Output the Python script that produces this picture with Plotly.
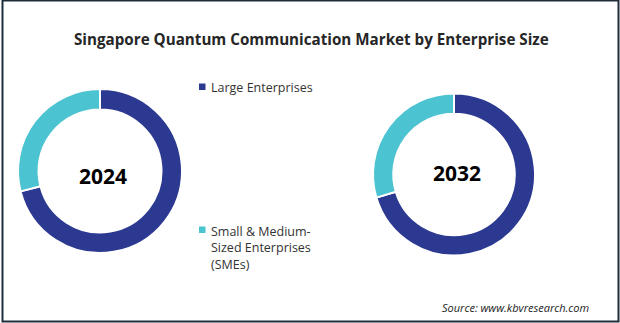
import plotly.graph_objects as go

categories = ["Large Enterprises", "Small & Medium-Sized Enterprises (SMEs)"]
legend_labels = ["Large Enterprises", "Small & Medium-<br>Sized Enterprises<br>(SMEs)"]
years = ["2024", "2032"]
values_2024 = [71.0, 29.0]
values_2032 = [70.4, 29.6]
colors = ["#2B3990", "#4BC3D0"]

W, H = 620, 323

def dom(cx, cy, r):
    return dict(x=[(cx - r) / W, (cx + r) / W], y=[(H - cy - r) / H, (H - cy + r) / H])

fig = go.Figure()
for vals, d in [(values_2024, dom(100, 171, 82)), (values_2032, dom(454, 174.5, 81))]:
    fig.add_trace(go.Pie(
        labels=categories, values=vals, hole=0.75, sort=False, direction="clockwise",
        rotation=0, marker=dict(colors=colors, line=dict(color="white", width=2)),
        textinfo="none", hoverinfo="label+percent", showlegend=False, domain=d,
    ))

annotations = [
    dict(text="<b>Singapore Quantum Communication Market by Enterprise Size</b>",
         x=311 / W, y=1 - 39 / H, xref="paper", yref="paper", showarrow=False,
         font=dict(family="Open Sans", size=15.2, color="#262626"), xanchor="center", yanchor="middle"),
    dict(text="<b>" + years[0] + "</b>", x=103 / W, y=1 - 176 / H, xref="paper", yref="paper",
         showarrow=False, xanchor="center", yanchor="middle",
         font=dict(family="Open Sans", size=21, color="#000000")),
    dict(text="<b>" + years[1] + "</b>", x=457 / W, y=1 - 173 / H, xref="paper", yref="paper",
         showarrow=False, xanchor="center", yanchor="middle",
         font=dict(family="Open Sans", size=21, color="#000000")),
    dict(text="<i>Source: www.kbvresearch.com</i>", x=591 / W, y=1 - 307 / H, xref="paper",
         yref="paper", showarrow=False, xanchor="right", yanchor="middle",
         font=dict(family="Open Sans", size=11, color="#222222")),
    dict(text=legend_labels[0], x=209 / W, y=1 - 87 / H, xref="paper", yref="paper",
         showarrow=False, xanchor="left", yanchor="middle", align="left",
         font=dict(family="Open Sans", size=12.5, color="#333333")),
    dict(text=legend_labels[1], x=209 / W, y=1 - 248 / H, xref="paper", yref="paper",
         showarrow=False, xanchor="left", yanchor="middle", align="left",
         font=dict(family="Open Sans", size=12.5, color="#333333")),
]

shapes = [
    dict(type="rect", xref="paper", yref="paper", x0=199 / W, x1=205.5 / W,
         y0=1 - 90 / H, y1=1 - 83.5 / H, fillcolor=colors[0], line=dict(width=0)),
    dict(type="rect", xref="paper", yref="paper", x0=199 / W, x1=205.5 / W,
         y0=1 - 233 / H, y1=1 - 226.5 / H, fillcolor=colors[1], line=dict(width=0)),
    dict(type="rect", xref="paper", yref="paper", x0=2.5 / W, x1=618.5 / W,
         y0=1.5 / H, y1=1 - 0.5 / H, line=dict(color="#1F2D3A", width=2)),
]

fig.update_layout(width=W, height=H, margin=dict(l=0, r=0, t=0, b=0),
                  paper_bgcolor="white", plot_bgcolor="white",
                  annotations=annotations, shapes=shapes)
fig.write_html("out.html")
